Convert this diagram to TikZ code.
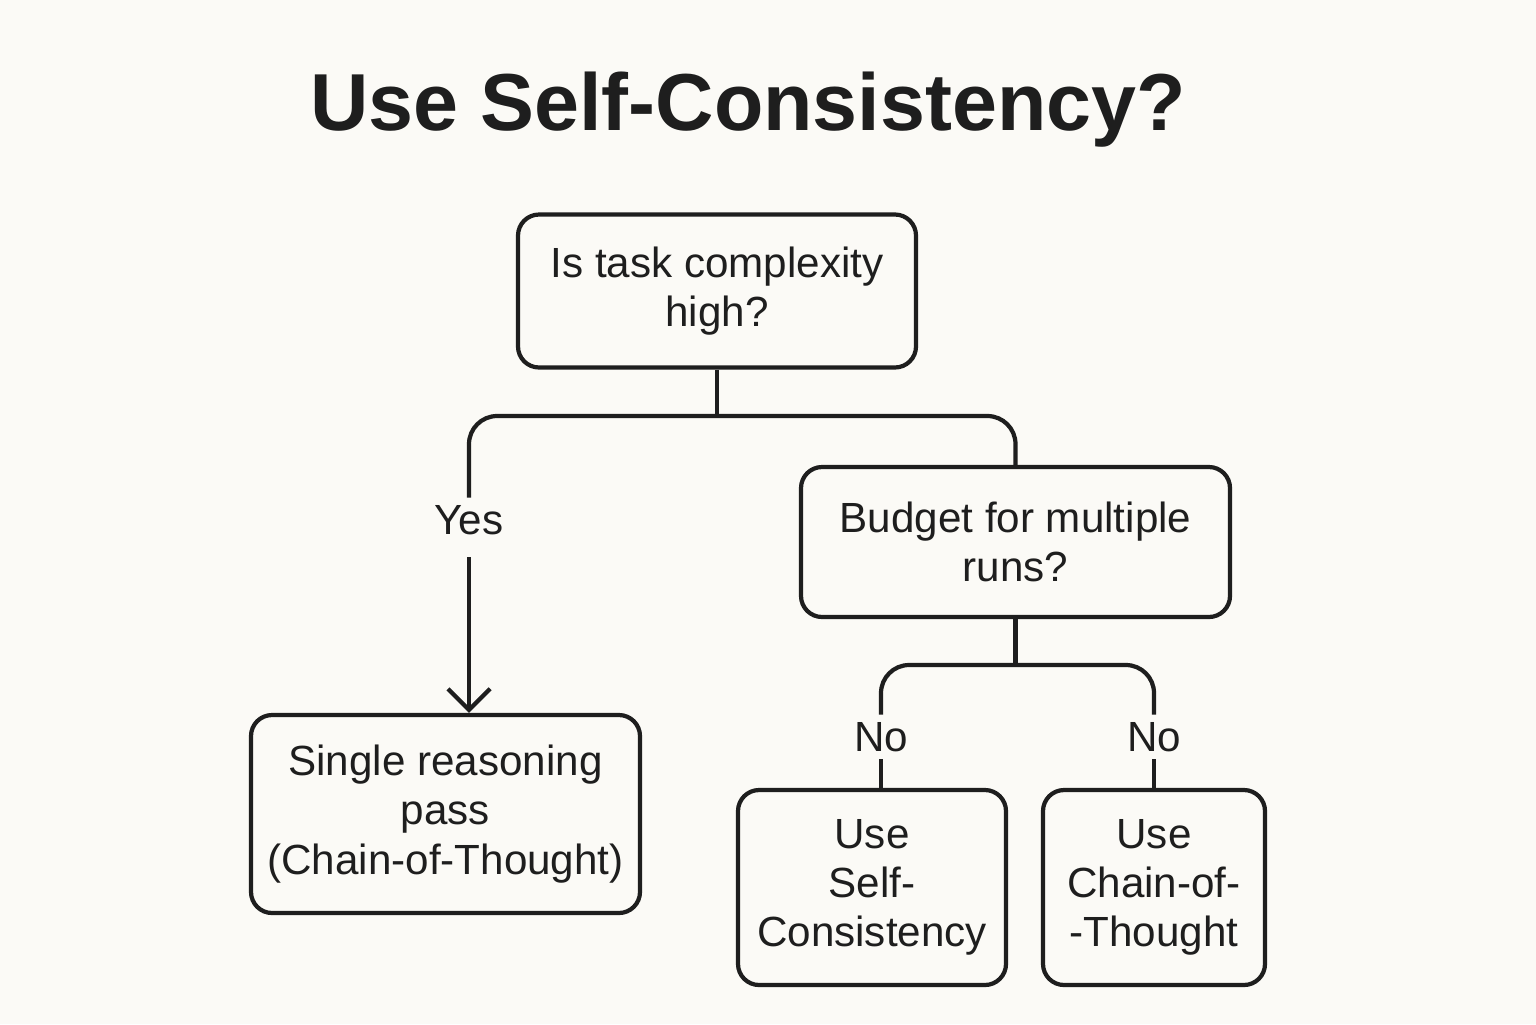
\documentclass[tikz,border=0pt]{standalone}
\usepackage{fontspec}
\setmainfont{Liberation Sans}
\usetikzlibrary{positioning,arrows.meta}
\definecolor{paper}{RGB}{251,250,246}
\definecolor{ink}{RGB}{30,30,30}

\tikzset{
  box/.style={draw=ink, line width=1.2pt, rounded corners=6pt, align=center, font=\fontsize{12}{14}\selectfont, text=ink},
  lbl/.style={font=\fontsize{12}{14}\selectfont, text=ink, inner sep=2pt},
  link/.style={draw=ink, line width=1.2pt, rounded corners=8pt}
}

\begin{document}
\begin{tikzpicture}
% canvas
\fill[paper] (0,0) rectangle (15.36,-10.24);
\useasboundingbox (0,0) rectangle (15.36,-10.24);

% title
\node[font=\bfseries\fontsize{23}{28}\selectfont, text=ink] (title) at (7.48,-1.1) {Use Self-Consistency?};

% decision boxes
\node[box, minimum width=3.98cm, minimum height=1.53cm] (complexity) at (7.17,-2.91) {Is task complexity\\high?};
\node[box, minimum width=4.29cm, minimum height=1.50cm] (budget) at (10.155,-5.42) {Budget for multiple\\runs?};

% outcome boxes
\node[box, minimum width=3.89cm, minimum height=1.98cm] (single) at (4.455,-8.14) {Single reasoning\\pass\\(Chain-of-Thought)};
\node[box, minimum width=2.68cm, minimum height=1.95cm] (selfcons) at (8.72,-8.875) {Use\\Self-\\Consistency};
\node[box, minimum width=2.22cm, minimum height=1.95cm] (chain) at (11.54,-8.875) {Use\\Chain-of-\\-Thought};

% branch labels
\node[lbl] (yes) at (4.69,-5.2) {Yes};
\node[lbl] (noleft) at (8.81,-7.37) {No};
\node[lbl] (noright) at (11.54,-7.37) {No};

% junction points
\coordinate (split) at (7.17,-4.16);
\coordinate (splitb) at (10.155,-6.65);

% connectors
\draw[link] (complexity.south) -- (split);
\draw[link] (yes.north) |- (split) -| (budget.north);
\draw[draw=ink, line width=1.2pt, -{Straight Barb[length=6pt,width=12pt]}] ([yshift=-0.15cm]yes.south) -- (yes.south |- single.north);
\draw[link] (budget.south) -- (splitb);
\draw[link] (noleft.north) |- (splitb) -| (noright.north);
\draw[draw=ink, line width=1.2pt] (noleft.south) -- (noleft.south |- selfcons.north);
\draw[draw=ink, line width=1.2pt] (noright.south) -- (chain.north);
\end{tikzpicture}
\end{document}
